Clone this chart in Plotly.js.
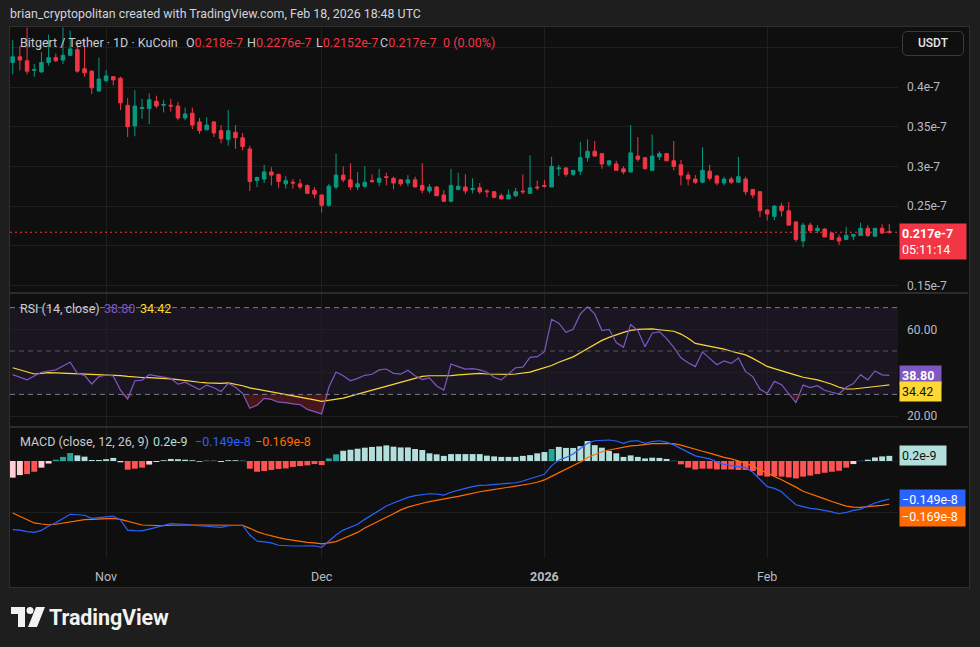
<!DOCTYPE html>
<html>
<head>
<meta charset="utf-8">
<script src="https://cdn.plot.ly/plotly-3.0.1.min.js"></script>
<style>
  html,body{margin:0;padding:0;}
  body{width:980px;height:647px;overflow:hidden;position:relative;background:#1e1e1e;font-family:Roboto,"Noto Sans",sans-serif;}
  #hdr{position:absolute;left:10px;top:6px;font-size:12.4px;color:#d1d4dc;white-space:nowrap;}
  #frame{position:absolute;left:9px;top:26px;width:959px;height:560px;background:#0f0f0f;border:1px solid #2f2f2f;}
  #chart{position:absolute;left:0;top:0;width:980px;height:647px;}
  #usdt{position:absolute;left:902px;top:31px;width:62px;height:25px;border:1px solid #3a3a3a;border-radius:5px;box-sizing:border-box;color:#e6e6e6;font-size:12px;font-weight:500;line-height:23px;text-align:center;background:#0f0f0f;}
  #logo{position:absolute;left:11px;top:606px;height:22px;display:flex;align-items:center;}
  #logo span{color:#f2f2f2;font-weight:700;font-size:21.5px;margin-left:4px;letter-spacing:-0.1px;}
</style>
</head>
<body>
<div id="hdr">brian_cryptopolitan created with TradingView.com, Feb 18, 2026 18:48 UTC</div>
<div id="frame"></div>
<div id="chart"></div>
<div id="usdt">USDT</div>
<div id="logo"><svg width="34" height="22" viewBox="0 0 34 22"><path d="M0 1h14v20h-7v-13h-7z" fill="#f2f2f2"/><circle cx="19" cy="4.5" r="3.5" fill="#f2f2f2"/><path d="M25 1h9l-8 20h-9z" fill="#f2f2f2"/></svg><span>TradingView</span></div>
<script>
// ---- Data (price in units of 1e-7 USDT, MACD in units of 1e-8) ----
const firstDay = [2025, 9, 19]; // 19 Oct 2025, daily candles
const opens = [0.431,0.438,0.433,0.421,0.419,0.431,0.437,0.434,0.440,0.447,
0.423,0.420,0.395,0.408,0.413,0.411,0.377,0.351,0.373,0.373,
0.382,0.377,0.377,0.376,0.361,0.367,0.356,0.346,0.356,0.345,
0.334,0.343,0.336,0.322,0.282,0.284,0.293,0.290,0.278,0.280,
0.278,0.276,0.270,0.264,0.251,0.274,0.289,0.283,0.274,0.275,
0.282,0.280,0.287,0.285,0.283,0.279,0.283,0.276,0.269,0.274,
0.264,0.256,0.271,0.274,0.271,0.273,0.269,0.268,0.263,0.259,
0.263,0.269,0.266,0.274,0.276,0.274,0.297,0.298,0.290,0.294,
0.311,0.319,0.316,0.302,0.303,0.297,0.293,0.313,0.311,0.295,
0.312,0.316,0.307,0.302,0.289,0.284,0.280,0.294,0.288,0.279,
0.284,0.280,0.284,0.271,0.268,0.245,0.237,0.250,0.244,0.230,
0.206,0.226,0.219,0.221,0.216,0.210,0.208,0.212,0.213,0.222,
0.212,0.222,0.218];
const highs = [0.459,0.452,0.475,0.429,0.444,0.466,0.442,0.475,0.471,0.454,
0.460,0.421,0.437,0.421,0.413,0.413,0.386,0.396,0.385,0.392,
0.389,0.384,0.385,0.381,0.374,0.374,0.361,0.362,0.357,0.352,
0.371,0.352,0.342,0.326,0.287,0.302,0.299,0.290,0.288,0.284,
0.284,0.277,0.274,0.264,0.278,0.316,0.300,0.304,0.293,0.300,
0.290,0.297,0.292,0.287,0.284,0.289,0.287,0.304,0.278,0.275,
0.270,0.297,0.292,0.290,0.285,0.279,0.271,0.269,0.266,0.271,
0.273,0.290,0.314,0.282,0.283,0.312,0.302,0.299,0.295,0.331,
0.334,0.332,0.317,0.308,0.307,0.300,0.352,0.337,0.311,0.340,
0.319,0.317,0.332,0.308,0.293,0.289,0.324,0.302,0.289,0.287,
0.287,0.312,0.287,0.271,0.269,0.246,0.251,0.254,0.255,0.231,
0.229,0.229,0.226,0.222,0.217,0.214,0.224,0.215,0.229,0.226,
0.222,0.227,0.2276];
const lows = [0.416,0.421,0.416,0.413,0.418,0.427,0.432,0.429,0.439,0.418,
0.413,0.391,0.394,0.406,0.402,0.371,0.337,0.338,0.360,0.353,
0.373,0.368,0.369,0.358,0.358,0.347,0.341,0.346,0.337,0.329,
0.326,0.322,0.320,0.269,0.274,0.279,0.276,0.273,0.272,0.272,
0.271,0.265,0.260,0.242,0.249,0.271,0.280,0.270,0.270,0.273,
0.279,0.275,0.276,0.271,0.275,0.275,0.274,0.266,0.266,0.263,
0.255,0.255,0.270,0.265,0.266,0.265,0.261,0.260,0.259,0.259,
0.261,0.265,0.266,0.270,0.273,0.274,0.288,0.287,0.288,0.289,
0.306,0.312,0.297,0.300,0.295,0.290,0.292,0.306,0.297,0.295,
0.308,0.307,0.295,0.276,0.276,0.278,0.279,0.282,0.276,0.276,
0.278,0.280,0.264,0.260,0.236,0.232,0.232,0.237,0.225,0.205,
0.198,0.216,0.216,0.211,0.207,0.201,0.207,0.207,0.213,0.211,
0.212,0.215,0.2152];
const closes = [0.438,0.434,0.420,0.422,0.431,0.437,0.433,0.440,0.448,0.420,
0.418,0.399,0.410,0.414,0.409,0.380,0.350,0.376,0.374,0.384,
0.376,0.378,0.376,0.361,0.366,0.352,0.345,0.352,0.342,0.335,
0.345,0.336,0.325,0.281,0.286,0.293,0.289,0.281,0.282,0.279,
0.274,0.266,0.265,0.251,0.275,0.289,0.283,0.274,0.278,0.280,
0.281,0.285,0.286,0.279,0.278,0.283,0.274,0.270,0.274,0.263,
0.256,0.276,0.275,0.269,0.272,0.268,0.268,0.261,0.259,0.264,
0.268,0.268,0.273,0.273,0.275,0.300,0.298,0.290,0.295,0.311,
0.319,0.313,0.303,0.307,0.295,0.293,0.317,0.309,0.297,0.313,
0.316,0.307,0.300,0.289,0.284,0.280,0.295,0.285,0.279,0.284,
0.280,0.287,0.268,0.264,0.244,0.240,0.250,0.244,0.226,0.208,
0.226,0.219,0.222,0.211,0.208,0.206,0.213,0.214,0.222,0.213,
0.222,0.216,0.217];
const rsi = [39.1,37.9,36.7,38.5,40.2,40.8,41.3,43.1,44.8,39.7,
38.8,34.8,38.2,39.0,38.5,32.0,27.9,36.3,36.6,39.1,
38.5,38.0,37.4,34.7,35.6,33.9,32.2,34.3,33.1,31.3,
35.1,33.3,30.5,23.6,25.0,28.2,27.7,26.4,26.2,25.6,
25.3,23.1,22.1,21.0,33.3,40.3,38.6,36.3,37.4,38.8,
39.3,41.3,41.7,39.7,39.3,41.1,38.6,36.8,37.6,33.9,
32.0,44.0,42.8,41.7,41.9,41.3,40.2,37.9,36.7,39.4,
42.3,42.6,47.1,47.4,49.7,64.6,62.8,58.6,60.0,67.1,
70.4,67.1,59.4,60.0,53.9,51.7,62.2,59.4,52.0,58.2,
58.9,55.7,51.7,46.9,44.6,42.8,49.6,46.6,43.7,45.4,
44.3,46.8,40.5,38.2,32.4,30.5,36.0,34.5,30.5,26.2,
34.3,33.1,34.0,31.9,31.0,30.2,33.3,35.0,39.1,36.7,
40.8,39.0,38.8];
const rsiMa = [42.3,41.3,40.3,39.4,39.7,40.0,39.9,39.8,39.7,39.5,
39.4,39.3,39.3,39.2,39.0,38.7,38.3,37.9,37.8,37.7,
37.6,37.4,37.2,36.8,36.3,36.0,35.6,35.3,35.1,35.1,
35.3,34.8,34.0,33.0,32.4,31.8,31.3,30.7,30.2,29.5,
29.0,28.2,27.5,26.8,27.2,27.7,28.3,29.2,30.1,31.0,
31.8,32.7,33.9,34.8,35.7,36.6,37.5,38.3,38.6,38.6,
38.5,38.7,39.0,39.3,39.6,39.7,39.4,39.3,39.2,39.2,
39.4,39.7,40.3,41.3,42.3,43.3,44.8,46.2,47.3,49.2,
51.2,53.1,54.9,56.3,57.5,58.6,59.5,60.0,60.1,60.2,
59.8,59.5,59.1,57.8,55.9,53.5,52.9,52.2,51.4,50.9,
49.9,49.1,48.2,46.6,44.6,42.9,41.9,41.0,40.0,38.9,
37.9,37.3,36.7,35.7,34.7,33.3,32.5,32.5,32.8,33.3,
33.7,34.0,34.42];
const macd = [-0.268,-0.270,-0.276,-0.279,-0.271,-0.254,-0.241,-0.225,-0.208,-0.210,
-0.212,-0.224,-0.221,-0.217,-0.215,-0.230,-0.270,-0.272,-0.273,-0.266,
-0.260,-0.251,-0.245,-0.246,-0.247,-0.251,-0.253,-0.254,-0.257,-0.259,
-0.253,-0.251,-0.251,-0.289,-0.313,-0.316,-0.320,-0.329,-0.331,-0.332,
-0.332,-0.332,-0.331,-0.337,-0.313,-0.289,-0.270,-0.257,-0.247,-0.228,
-0.211,-0.191,-0.176,-0.164,-0.152,-0.142,-0.135,-0.132,-0.128,-0.129,
-0.133,-0.122,-0.113,-0.107,-0.100,-0.095,-0.094,-0.092,-0.091,-0.089,
-0.085,-0.078,-0.069,-0.061,-0.052,-0.018,0.003,0.014,0.027,0.049,
0.069,0.079,0.081,0.082,0.078,0.069,0.078,0.079,0.069,0.076,
0.079,0.074,0.063,0.049,0.033,0.020,0.014,0.008,-0.003,-0.013,
-0.018,-0.022,-0.026,-0.044,-0.074,-0.100,-0.107,-0.120,-0.146,-0.171,
-0.178,-0.185,-0.188,-0.193,-0.199,-0.206,-0.201,-0.193,-0.188,-0.176,
-0.164,-0.156,-0.149];
const signal = [-0.203,-0.215,-0.230,-0.242,-0.246,-0.249,-0.247,-0.243,-0.238,-0.233,
-0.229,-0.228,-0.227,-0.225,-0.224,-0.228,-0.236,-0.243,-0.250,-0.251,
-0.253,-0.253,-0.251,-0.250,-0.250,-0.250,-0.250,-0.250,-0.251,-0.251,
-0.250,-0.250,-0.251,-0.263,-0.276,-0.285,-0.293,-0.299,-0.305,-0.310,
-0.314,-0.318,-0.320,-0.324,-0.320,-0.315,-0.303,-0.292,-0.279,-0.262,
-0.249,-0.234,-0.220,-0.206,-0.191,-0.180,-0.171,-0.165,-0.159,-0.154,
-0.150,-0.145,-0.138,-0.132,-0.125,-0.120,-0.116,-0.112,-0.108,-0.104,
-0.099,-0.094,-0.089,-0.083,-0.074,-0.060,-0.046,-0.034,-0.021,-0.004,
0.014,0.025,0.036,0.043,0.048,0.053,0.059,0.061,0.065,0.068,
0.068,0.069,0.068,0.062,0.053,0.046,0.038,0.031,0.022,0.014,
0.008,0.001,-0.008,-0.021,-0.033,-0.048,-0.060,-0.073,-0.086,-0.102,
-0.118,-0.129,-0.138,-0.148,-0.158,-0.168,-0.176,-0.180,-0.181,-0.178,
-0.176,-0.173,-0.169];
const hist = [-0.065,-0.055,-0.051,-0.042,-0.026,-0.010,0.005,0.016,0.031,0.022,
0.017,0.004,0.004,0.007,0.012,-0.005,-0.034,-0.030,-0.026,-0.014,
-0.004,0.003,0.008,0.007,0.005,0.003,-0.003,0.001,0.001,-0.004,
0.003,0.003,0.001,-0.030,-0.042,-0.039,-0.035,-0.031,-0.029,-0.023,
-0.020,-0.017,-0.012,-0.016,0.010,0.026,0.040,0.044,0.048,0.052,
0.055,0.057,0.061,0.056,0.053,0.053,0.047,0.043,0.030,0.026,
0.020,0.027,0.027,0.027,0.027,0.027,0.021,0.018,0.016,0.016,
0.016,0.020,0.023,0.030,0.035,0.047,0.055,0.051,0.051,0.058,
0.078,0.062,0.052,0.039,0.030,0.016,0.022,0.016,0.010,0.013,
0.012,0.008,0.001,-0.013,-0.026,-0.033,-0.030,-0.030,-0.033,-0.033,
-0.033,-0.035,-0.035,-0.039,-0.057,-0.061,-0.059,-0.061,-0.064,-0.068,
-0.061,-0.057,-0.051,-0.046,-0.042,-0.038,-0.026,-0.012,0.001,0.005,
0.014,0.018,0.020];
const xTickDates = ['2025-11-01','2025-12-01','2026-01-01','2026-02-01'];
const xTickText = ['Nov','Dec','<b>2026</b>','Feb'];
const priceTicks = [0.15,0.2,0.25,0.3,0.35,0.4,0.45];
const priceTickText = ['0.15e-7','','0.25e-7','0.3e-7','0.35e-7','0.4e-7',''];

// ---- Styles ----
const histShade = 'PPRRPPGGGL'+'LLLLLPRRRP'+'PLLLLLLLLL'+'LLLRRRRRRR'+'RRRRGGLLLL'+
  'LLLLLLLLLL'+'LLLLLLLLLL'+'LLLLLGLLLL'+'LLLLLLLLLL'+'LLGRRRRRRR'+'RRRRRRRRRR'+'RRRRRRRPGL'+'LLL';
const shadeColor = {G:'#26a69a', L:'#b2dfdb', R:'#ff5252', P:'#ffcdd2'};

const dates = opens.map((_, i) => new Date(Date.UTC(firstDay[0], firstDay[1], firstDay[2] + i)).toISOString().slice(0,10));
const n = closes.length;
const FONT = 'Roboto, "Noto Sans", sans-serif';
const GRID = '#1f1f1f';
const AXT = '#b8bbc2';

const traces = [
  {type:'candlestick', x:dates, open:opens, high:highs, low:lows, close:closes, xaxis:'x', yaxis:'y',
   increasing:{line:{color:'#089981',width:1}, fillcolor:'#089981'},
   decreasing:{line:{color:'#f23645',width:1}, fillcolor:'#f23645'},
   whiskerwidth:0, hoverinfo:'skip', showlegend:false},
  {type:'scatter', mode:'lines', x:dates, y:rsi.map(()=>30), yaxis:'y2', line:{width:0}, hoverinfo:'skip', showlegend:false},
  {type:'scatter', mode:'lines', x:dates, y:rsi.map(v=>Math.min(v,30)), yaxis:'y2', line:{width:0}, fill:'tonexty', fillcolor:'rgba(200,40,55,0.30)', hoverinfo:'skip', showlegend:false},
  {type:'scatter', mode:'lines', x:dates, y:rsi.map(()=>70), yaxis:'y2', line:{width:0}, hoverinfo:'skip', showlegend:false},
  {type:'scatter', mode:'lines', x:dates, y:rsi.map(v=>Math.max(v,70)), yaxis:'y2', line:{width:0}, fill:'tonexty', fillcolor:'rgba(8,153,129,0.30)', hoverinfo:'skip', showlegend:false},
  {type:'scatter', mode:'lines', x:dates, y:rsiMa, yaxis:'y2', line:{color:'#fdd835',width:1.2}, hoverinfo:'skip', showlegend:false},
  {type:'scatter', mode:'lines', x:dates, y:rsi, yaxis:'y2', line:{color:'#7e57c2',width:1.2}, hoverinfo:'skip', showlegend:false},
  {type:'bar', x:dates, y:hist, yaxis:'y3', marker:{color:hist.map((_,i)=>shadeColor[histShade[i]]), line:{width:0}}, hoverinfo:'skip', showlegend:false},
  {type:'scatter', mode:'lines', x:dates, y:signal, yaxis:'y3', line:{color:'#ff6d00',width:1.2}, hoverinfo:'skip', showlegend:false},
  {type:'scatter', mode:'lines', x:dates, y:macd, yaxis:'y3', line:{color:'#2962ff',width:1.2}, hoverinfo:'skip', showlegend:false}
];

// pixel helpers for paper coordinates (plot paper: x 10..968, y 27..588)
const px = v => (v - 10) / 958;
const py = v => (588 - v) / 561;

const ann = [];
function legend(x, y, text, color, size){
  ann.push({xref:'paper', yref:'paper', x:px(x), y:py(y), xanchor:'left', yanchor:'middle', showarrow:false,
    text:text, font:{family:FONT, size:size||12.5, color:color||'#c9ccd3'}});
}
const R = '#f23645';
const fmt7 = v => v + 'e-7';
legend(18, 42, 'Bitgert / Tether · 1D · KuCoin');
legend(184, 42, 'O<span style="color:'+R+'">'+fmt7(opens[n-1])+'</span>');
legend(245, 42, 'H<span style="color:'+R+'">'+fmt7(highs[n-1])+'</span>');
legend(314, 42, 'L<span style="color:'+R+'">'+fmt7(lows[n-1])+'</span>');
legend(378, 42, 'C<span style="color:'+R+'">'+fmt7(closes[n-1])+'</span>');
legend(441, 42, '0 (0.00%)', R);
legend(18, 308, 'RSI (14, close)');
legend(102, 308, rsi[n-1].toFixed(2), '#7e57c2');
legend(138, 308, rsiMa[n-1].toFixed(2), '#fdd835');
legend(18, 441.5, 'MACD (close, 12, 26, 9)');
legend(151, 441.5, '0.2e-9', '#b2dfdb');
legend(193, 441.5, '\u2212' + Math.abs(macd[n-1]) + 'e-8', '#2962ff');
legend(253, 441.5, '\u2212' + Math.abs(signal[n-1]) + 'e-8', '#ff6d00');

function valueBox(yref, y, text, bg, fg, w, yshift, bold){
  ann.push({xref:'paper', yref:yref, x:px(899), y:y, xanchor:'left', yanchor:'middle', showarrow:false,
    text: bold ? '<b>'+text+'</b>' : text, bgcolor:bg, font:{family:FONT, size:12.5, color:fg},
    width:w, align:'left', borderpad:2, yshift:yshift||0});
}
ann.push({xref:'paper', yref:'y', x:px(899), y:closes[n-1], xanchor:'left', yanchor:'top', showarrow:false,
  text:'<b>'+fmt7(closes[n-1])+'</b><br>05:11:14', bgcolor:'#f23645', font:{family:FONT,size:12.5,color:'#ffffff'},
  width:62, align:'left', borderpad:2, yshift:9});
valueBox('y2', rsi[n-1], rsi[n-1].toFixed(2), '#7e57c2', '#ffffff', 37, 0, true);
valueBox('y2', rsiMa[n-1], rsiMa[n-1].toFixed(2), '#fdd835', '#131313', 37, -7);
valueBox('y3', hist[n-1], '0.2e-9', '#b2dfdb', '#131313', 42, 0);
valueBox('y3', macd[n-1], '\u2212' + Math.abs(macd[n-1]) + 'e-8', '#2962ff', '#ffffff', 61, 0);
valueBox('y3', signal[n-1], '\u2212' + Math.abs(signal[n-1]) + 'e-8', '#ff6d00', '#ffffff', 61, -12);

const shapes = [
  {type:'rect', xref:'x domain', yref:'y2', x0:0, x1:1, y0:30, y1:70, fillcolor:'rgba(126,87,194,0.10)', line:{width:0}, layer:'below'},
  {type:'line', xref:'x domain', yref:'y2', x0:0, x1:1, y0:70, y1:70, line:{color:'#787b86', width:1, dash:'5px,4px'}},
  {type:'line', xref:'x domain', yref:'y2', x0:0, x1:1, y0:50, y1:50, line:{color:'#55575f', width:1, dash:'5px,4px'}},
  {type:'line', xref:'x domain', yref:'y2', x0:0, x1:1, y0:30, y1:30, line:{color:'#787b86', width:1, dash:'5px,4px'}},
  {type:'line', xref:'x domain', yref:'y', x0:0, x1:1, y0:closes[n-1], y1:closes[n-1], line:{color:'#f23645', width:1, dash:'2px,3px'}},
  {type:'line', xref:'paper', yref:'paper', x0:0, x1:1, y0:py(293), y1:py(293), line:{color:'#2c2c2c', width:2}},
  {type:'line', xref:'paper', yref:'paper', x0:0, x1:1, y0:py(427), y1:py(427), line:{color:'#2c2c2c', width:2}}
];

const yCommon = {side:'right', anchor:'x', showline:false, zeroline:false, ticks:'', gridcolor:GRID, gridwidth:1,
  tickfont:{family:FONT, size:12, color:AXT}, ticklabelstandoff:8, fixedrange:true};

const layout = {
  width:980, height:647,
  margin:{l:10, r:12, t:27, b:59},
  paper_bgcolor:'rgba(0,0,0,0)', plot_bgcolor:'rgba(0,0,0,0)',
  font:{family:FONT},
  showlegend:false, bargap:0.18, boxgap:0.3,
  xaxis:{type:'date', domain:[0, 888/958], anchor:'y3', range:['2025-10-18 15:00','2026-02-19 05:00'],
    rangeslider:{visible:false}, showgrid:true, gridcolor:GRID, zeroline:false, showline:false, ticks:'',
    tickvals:xTickDates, ticktext:xTickText, tickfont:{family:FONT, size:12.5, color:AXT}, ticklabelstandoff:9, fixedrange:true},
  yaxis: Object.assign({}, yCommon, {domain:[py(292), 1], range:[0.1417, 0.4756], tickvals:priceTicks, ticktext:priceTickText}),
  yaxis2: Object.assign({}, yCommon, {domain:[py(426), py(294)], range:[15.44, 76.27], tickvals:[20,40,60], ticktext:['20.00','','60.00']}),
  yaxis3: Object.assign({}, yCommon, {domain:[py(558), py(428)], range:[-0.3789, 0.1289], tickvals:[-0.2, 0], showticklabels:false}),
  annotations: ann,
  shapes: shapes
};

Plotly.newPlot('chart', traces, layout, {staticPlot:true, displayModeBar:false});
</script>
</body>
</html>
